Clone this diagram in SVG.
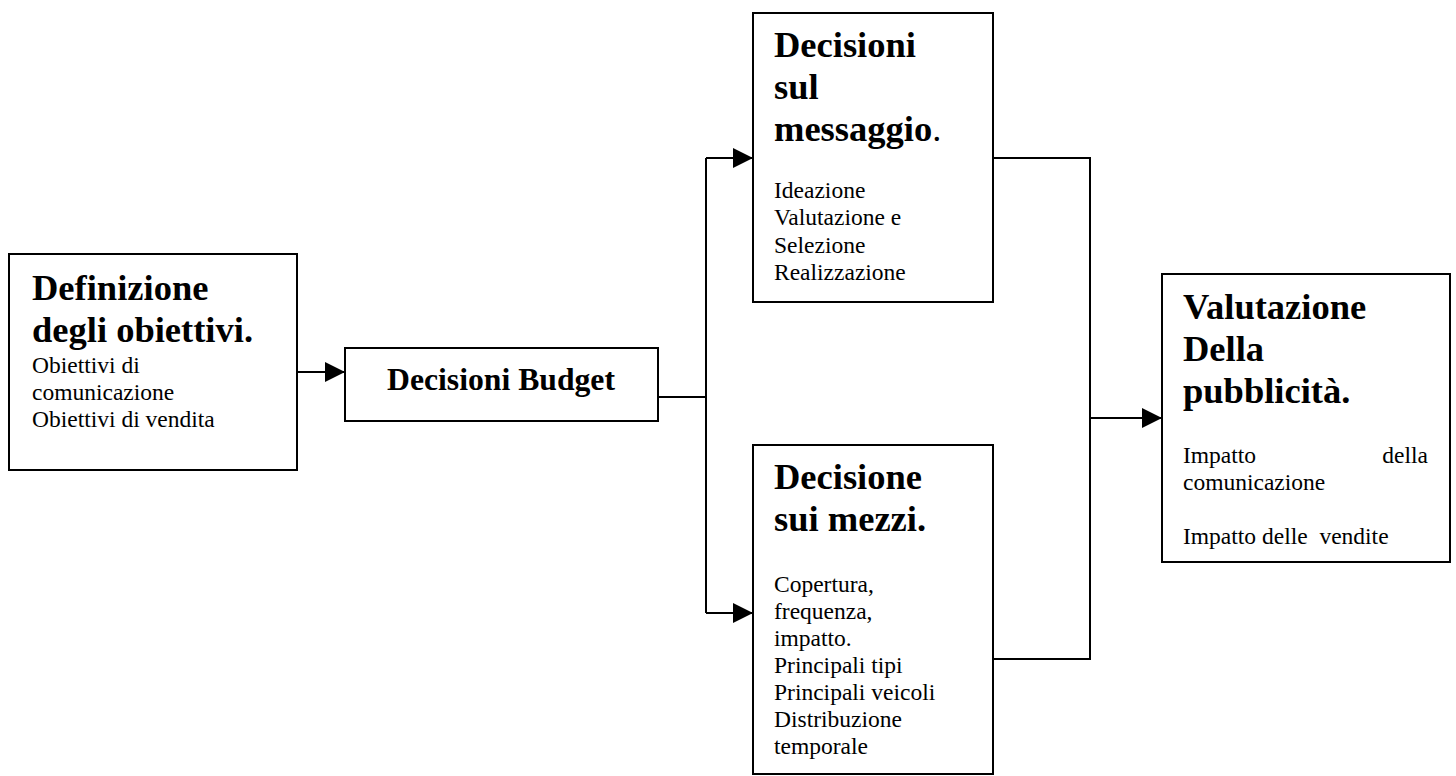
<svg xmlns="http://www.w3.org/2000/svg" width="1456" height="776" viewBox="0 0 1456 776">
<defs>
<marker id="arr" markerUnits="userSpaceOnUse" markerWidth="20" markerHeight="20" refX="20" refY="10" orient="auto" viewBox="0 0 20 20">
<path d="M0,0 L20,10 L0,20 z" fill="#000"/>
</marker>
</defs>
<style>
.box{fill:#fff;stroke:#000;stroke-width:2}
.t{font-family:"Liberation Serif","Times New Roman",serif;font-weight:bold;font-size:36.5px;fill:#000}
.b{font-family:"Liberation Serif","Times New Roman",serif;font-size:23.5px;fill:#000}
.c{fill:none;stroke:#000;stroke-width:2}
</style>
<rect width="1456" height="776" fill="#fff"/>
<g id="connectors">
<path class="c" d="M297,372 H345" marker-end="url(#arr)"/>
<path class="c" d="M658,397 H706"/>
<path class="c" d="M706,158 V613"/>
<path class="c" d="M706,158 H753" marker-end="url(#arr)"/>
<path class="c" d="M706,613 H753" marker-end="url(#arr)"/>
<path class="c" d="M993,158 H1090 V659 H993"/>
<path class="c" d="M1090,418 H1162" marker-end="url(#arr)"/>
</g>
<g id="definizione">
<rect class="box" x="9" y="254" width="288" height="216"/>
<text class="t" x="32" y="300">Definizione</text>
<text class="t" x="32" y="342">degli obiettivi.</text>
<text class="b" x="32" y="373">Obiettivi di</text>
<text class="b" x="32" y="400">comunicazione</text>
<text class="b" x="32" y="427">Obiettivi di vendita</text>
</g>
<g id="budget">
<rect class="box" x="345" y="348" width="313" height="73"/>
<text class="t" x="501" y="390" text-anchor="middle" style="font-size:31.7px">Decisioni Budget</text>
</g>
<g id="messaggio">
<rect class="box" x="753" y="13" width="240" height="289"/>
<text class="t" x="774" y="57">Decisioni</text>
<text class="t" x="774" y="99">sul</text>
<text class="t" x="774" y="141">messaggio<tspan font-weight="normal">.</tspan></text>
<text class="b" x="774" y="198">Ideazione</text>
<text class="b" x="774" y="225">Valutazione e</text>
<text class="b" x="774" y="253">Selezione</text>
<text class="b" x="774" y="280">Realizzazione</text>
</g>
<g id="mezzi">
<rect class="box" x="753" y="445" width="240" height="329"/>
<text class="t" x="774" y="489">Decisione</text>
<text class="t" x="774" y="531">sui mezzi.</text>
<text class="b" x="774" y="592">Copertura,</text>
<text class="b" x="774" y="619">frequenza,</text>
<text class="b" x="774" y="646">impatto.</text>
<text class="b" x="774" y="673">Principali tipi</text>
<text class="b" x="774" y="700">Principali veicoli</text>
<text class="b" x="774" y="727">Distribuzione</text>
<text class="b" x="774" y="754">temporale</text>
</g>
<g id="valutazione">
<rect class="box" x="1162" y="274" width="288" height="288"/>
<text class="t" x="1183" y="319">Valutazione</text>
<text class="t" x="1183" y="361">Della</text>
<text class="t" x="1183" y="403">pubblicità.</text>
<text class="b" x="1183" y="463">Impatto</text>
<text class="b" x="1428" y="463" text-anchor="end">della</text>
<text class="b" x="1183" y="490">comunicazione</text>
<text class="b" x="1183" y="544" xml:space="preserve">Impatto delle  vendite</text>
</g>
</svg>
